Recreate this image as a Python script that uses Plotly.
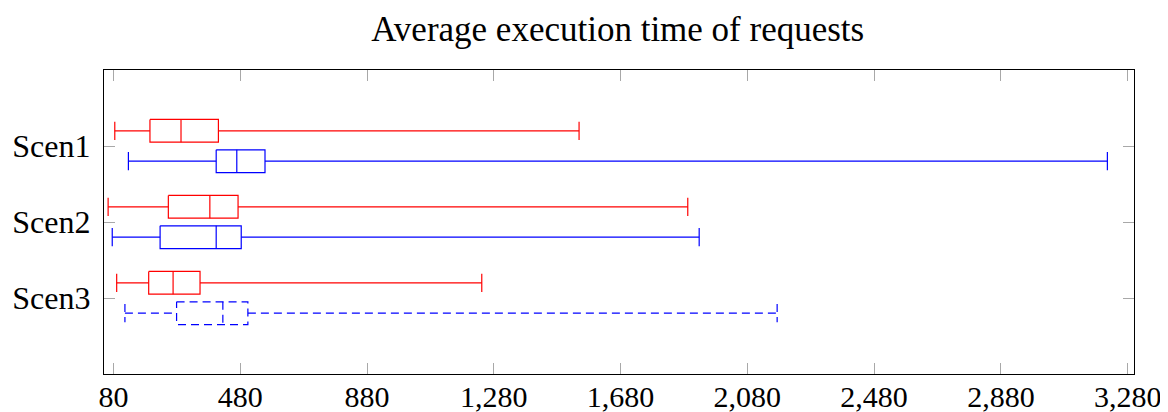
import plotly.graph_objects as go

RED = "#ff0000"
BLUE = "#0000ff"
TICKGRAY = "#a8a8a8"
FONT = "Liberation Serif"

SCENARIOS = ["Scen1", "Scen2", "Scen3"]

# five-number summaries: lower whisker, q1, median, q3, upper whisker
RED_LOW = [84, 63, 90]
RED_Q1 = [195, 253, 191]
RED_MED = [293, 384, 268]
RED_Q3 = [411, 473, 353]
RED_HIGH = [1549, 1892, 1242]

BLUE_LOW = [127, 76, 116]
BLUE_Q1 = [404, 227, 279]
BLUE_MED = [469, 404, 425]
BLUE_Q3 = [558, 483, 504]
BLUE_HIGH = [3216, 1928, 2174]
BLUE_DASH = [False, False, True]

X_TICKS = [80, 480, 880, 1280, 1680, 2080, 2480, 2880, 3280]

OFFSET = 0.2      # red above the tick, blue below
BOX_H = 0.3
CAP_H = 0.24

# the page body adds an 8px margin, so margins are shifted to compensate
PAGE_PAD = 8


def boxPath(pos, low, q1, med, q3, high):
    b0, b1 = pos - BOX_H / 2, pos + BOX_H / 2
    c0, c1 = pos - CAP_H / 2, pos + CAP_H / 2
    xs = [low, q1, None, low, low, None,
          q1, q3, q3, q1, q1, None,
          med, med, None,
          q3, high, None, high, high]
    ys = [pos, pos, None, c0, c1, None,
          b0, b0, b1, b1, b0, None,
          b0, b1, None,
          pos, pos, None, c0, c1]
    return xs, ys


def makeTrace(pos, stats, color, dashed):
    xs, ys = boxPath(pos, *stats)
    return go.Scatter(
        x=xs, y=ys, mode="lines",
        line=dict(color=color, width=1.2, dash="8px,5px" if dashed else "solid"),
        showlegend=False, hoverinfo="skip",
    )


fig = go.Figure()
for i in range(len(SCENARIOS)):
    fig.add_trace(makeTrace(i - OFFSET,
                            (RED_LOW[i], RED_Q1[i], RED_MED[i], RED_Q3[i], RED_HIGH[i]),
                            RED, False))
    fig.add_trace(makeTrace(i + OFFSET,
                            (BLUE_LOW[i], BLUE_Q1[i], BLUE_MED[i], BLUE_Q3[i], BLUE_HIGH[i]),
                            BLUE, BLUE_DASH[i]))

fig.update_layout(
    width=1168, height=412,
    margin=dict(l=104 - PAGE_PAD, r=34 + PAGE_PAD, t=70 - PAGE_PAD, b=38 + PAGE_PAD,
                autoexpand=False),
    plot_bgcolor="white", paper_bgcolor="white",
    font=dict(family=FONT, color="black"),
    title=dict(text="Average execution time of requests", x=0.522, xanchor="center",
               y=0.98, yanchor="top", font=dict(family=FONT, size=35, color="black")),
    xaxis=dict(
        range=[50, 3300], tickvals=X_TICKS, tickformat=",d", automargin=False,
        showgrid=False, zeroline=False,
        showline=True, linecolor="black", linewidth=1.3, mirror="allticks",
        ticks="inside", ticklen=11, tickcolor=TICKGRAY, tickwidth=1,
        ticklabelstandoff=-4,
        tickfont=dict(family=FONT, size=30, color="black"),
    ),
    yaxis=dict(
        range=[3, -1], tickvals=list(range(len(SCENARIOS))), ticktext=SCENARIOS,
        automargin=False,
        showgrid=False, zeroline=False,
        showline=True, linecolor="black", linewidth=1.3, mirror="allticks",
        ticks="inside", ticklen=11, tickcolor=TICKGRAY, tickwidth=1,
        ticklabelstandoff=6,
        tickfont=dict(family=FONT, size=32, color="black"),
    ),
)

fig.write_html("out.html")
